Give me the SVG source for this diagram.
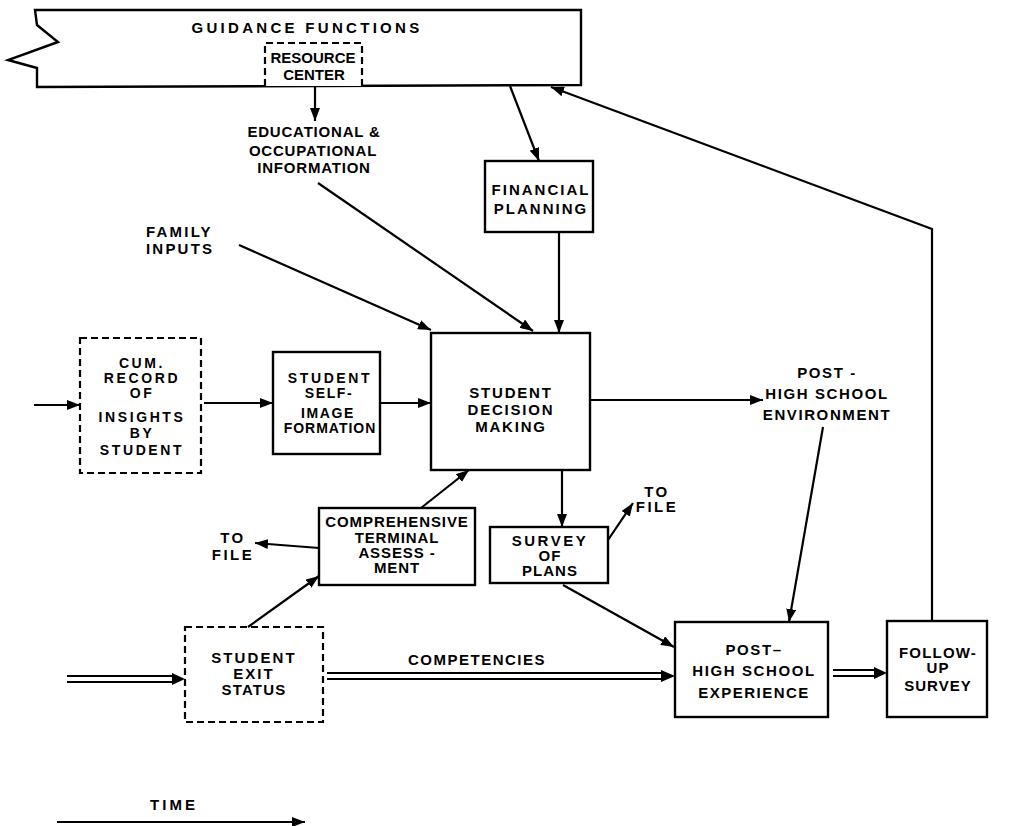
<svg xmlns="http://www.w3.org/2000/svg" width="1034" height="826" viewBox="0 0 1034 826">
<defs>
<marker id="ah" markerUnits="userSpaceOnUse" markerWidth="14" markerHeight="10" refX="13" refY="5" orient="auto">
<path d="M0,0 L13,5 L0,10 Z" fill="#000"/>
</marker>
<style>
text{font-family:"Liberation Sans",Arial,sans-serif;font-weight:bold;fill:#000;text-anchor:middle;font-size:15px}
.box{fill:#fff;stroke:#000;stroke-width:2.4}
.dash{fill:#fff;stroke:#000;stroke-width:2.2;stroke-dasharray:7 4}
.arr{fill:none;stroke:#000;stroke-width:2.2;marker-end:url(#ah)}
.dbl{fill:none;stroke:#000;stroke-width:2}
.s14{font-size:14px}
</style>
</defs>
<rect width="1034" height="826" fill="#fff"/>

<g id="guidance-functions">
<path class="box" d="M35,10 L581,10 L581,85 L37,87 L37,68 L8,60 L58,42 L37,25 Z"/>
<text x="307" y="33" font-size="18" letter-spacing="3.3">GUIDANCE FUNCTIONS</text>
</g>
<g id="resource-center">
<path class="dash" d="M265,86 V43 H362 V86" fill="none"/>
<text x="313" y="63" font-size="14">RESOURCE</text>
<text x="314" y="80" font-size="14">CENTER</text>
</g>
<g id="educational-information">
<text x="314" y="137" letter-spacing="0.8">EDUCATIONAL &amp;</text>
<text x="313" y="156" letter-spacing="0.8">OCCUPATIONAL</text>
<text x="314" y="173" letter-spacing="0.8">INFORMATION</text>
</g>
<g id="family-inputs">
<text x="146" y="237" style="text-anchor:start" letter-spacing="2.2">FAMILY</text>
<text x="146" y="254" style="text-anchor:start" letter-spacing="2.2">INPUTS</text>
</g>
<g id="financial-planning">
<rect class="box" x="485" y="161" width="108" height="71"/>
<text x="541" y="195" letter-spacing="2">FINANCIAL</text>
<text x="541" y="214" letter-spacing="2">PLANNING</text>
</g>
<g id="student-decision-making">
<rect class="box" x="431" y="333" width="159" height="137"/>
<text x="511" y="398" letter-spacing="1.8">STUDENT</text>
<text x="511" y="415" letter-spacing="1.8">DECISION</text>
<text x="511" y="432" letter-spacing="1.8">MAKING</text>
</g>
<g id="cum-record">
<rect class="dash" x="80" y="338" width="121" height="135"/>
<text class="s14" x="142" y="368" letter-spacing="2.6">CUM.</text>
<text class="s14" x="142" y="383" letter-spacing="2.6">RECORD</text>
<text class="s14" x="142" y="398" letter-spacing="2.6">OF</text>
<text class="s14" x="142" y="422" letter-spacing="2.6">INSIGHTS</text>
<text class="s14" x="142" y="438" letter-spacing="2.6">BY</text>
<text class="s14" x="142" y="455" letter-spacing="2.6">STUDENT</text>
</g>
<g id="self-image-formation">
<rect class="box" x="273" y="352" width="107" height="102"/>
<text class="s14" x="330" y="383" letter-spacing="2.6">STUDENT</text>
<text class="s14" x="329" y="398" letter-spacing="1.6">SELF-</text>
<text class="s14" x="328" y="418" letter-spacing="1.6">IMAGE</text>
<text class="s14" x="330" y="433" letter-spacing="1">FORMATION</text>
</g>
<g id="post-high-school-environment">
<text x="827" y="378" letter-spacing="1.6">POST -</text>
<text x="827" y="399" letter-spacing="1.6">HIGH SCHOOL</text>
<text x="827" y="420" letter-spacing="1.6">ENVIRONMENT</text>
</g>
<g id="comprehensive-assessment">
<rect class="box" x="319" y="508" width="156" height="77"/>
<text x="397" y="527" letter-spacing="0.9">COMPREHENSIVE</text>
<text x="397" y="543" letter-spacing="0.9">TERMINAL</text>
<text x="397" y="558" letter-spacing="0.9">ASSESS -</text>
<text x="397" y="573" letter-spacing="0.9">MENT</text>
</g>
<g id="to-file-left">
<text x="233" y="543" font-size="14" letter-spacing="2.5">TO</text>
<text x="233" y="560" font-size="14" letter-spacing="2.5">FILE</text>
</g>
<g id="survey-of-plans">
<rect class="box" x="490" y="527" width="118" height="56"/>
<text x="550" y="546" letter-spacing="2.5">SURVEY</text>
<text x="550" y="561" letter-spacing="1">OF</text>
<text x="550" y="576" letter-spacing="1">PLANS</text>
</g>
<g id="to-file-right">
<text x="657" y="497" font-size="14" letter-spacing="2.5">TO</text>
<text x="657" y="512" font-size="14" letter-spacing="2.5">FILE</text>
</g>
<g id="student-exit-status">
<rect class="dash" x="185" y="627" width="138" height="95"/>
<text x="254" y="663" letter-spacing="2.1">STUDENT</text>
<text x="254" y="679" letter-spacing="2.1">EXIT</text>
<text x="254" y="695" letter-spacing="1.2">STATUS</text>
</g>
<g id="competencies">
<text x="477" y="665" letter-spacing="1.5">COMPETENCIES</text>
</g>
<g id="post-high-school-experience">
<rect class="box" x="675" y="622" width="153" height="95"/>
<text x="754" y="655" letter-spacing="1.6">POST–</text>
<text x="754" y="676" letter-spacing="1.6">HIGH SCHOOL</text>
<text x="754" y="698" letter-spacing="1.5">EXPERIENCE</text>
</g>
<g id="follow-up-survey">
<rect class="box" x="887" y="621" width="100" height="96"/>
<text x="938" y="658" font-size="14.5" letter-spacing="1.2">FOLLOW-</text>
<text x="938" y="673" font-size="14.5" letter-spacing="1">UP</text>
<text x="938" y="691" letter-spacing="1">SURVEY</text>
</g>
<g id="time">
<text x="174" y="810" letter-spacing="3">TIME</text>
</g>

<g id="connectors">
<line class="arr" x1="315" y1="86" x2="315" y2="121"/>
<line class="arr" x1="318" y1="183" x2="533" y2="331"/>
<line class="arr" x1="239" y1="245" x2="431" y2="330"/>
<line class="arr" x1="510" y1="86" x2="539" y2="161"/>
<line class="arr" x1="559" y1="232" x2="559" y2="333"/>
<line class="arr" x1="34" y1="405" x2="80" y2="405"/>
<line class="arr" x1="204" y1="403" x2="273" y2="403"/>
<line class="arr" x1="381" y1="403" x2="431" y2="403"/>
<line class="arr" x1="590" y1="400" x2="763" y2="400"/>
<line class="arr" x1="823" y1="427" x2="789" y2="622"/>
<line class="arr" x1="562" y1="470" x2="562" y2="527"/>
<line class="arr" x1="608" y1="540" x2="633" y2="503"/>
<line class="arr" x1="319" y1="548" x2="255" y2="543"/>
<line class="arr" x1="248" y1="627" x2="319" y2="576"/>
<line class="arr" x1="421" y1="508" x2="469" y2="470"/>
<line class="arr" x1="563" y1="585" x2="674" y2="647"/>
<polyline class="arr" points="932,621 932,229 551,87"/>
<line class="arr" x1="57" y1="822" x2="305" y2="822"/>
<path class="dbl" d="M67,676 H176 M67,682 H176"/>
<path d="M172,673 L185,679 L172,685 Z"/>
<path class="dbl" d="M327,673 H665 M327,679 H665"/>
<path d="M661,670 L675,676 L661,682 Z"/>
<path class="dbl" d="M833,670 H878 M833,676 H878"/>
<path d="M874,667 L887,673 L874,679 Z"/>
</g>
</svg>
